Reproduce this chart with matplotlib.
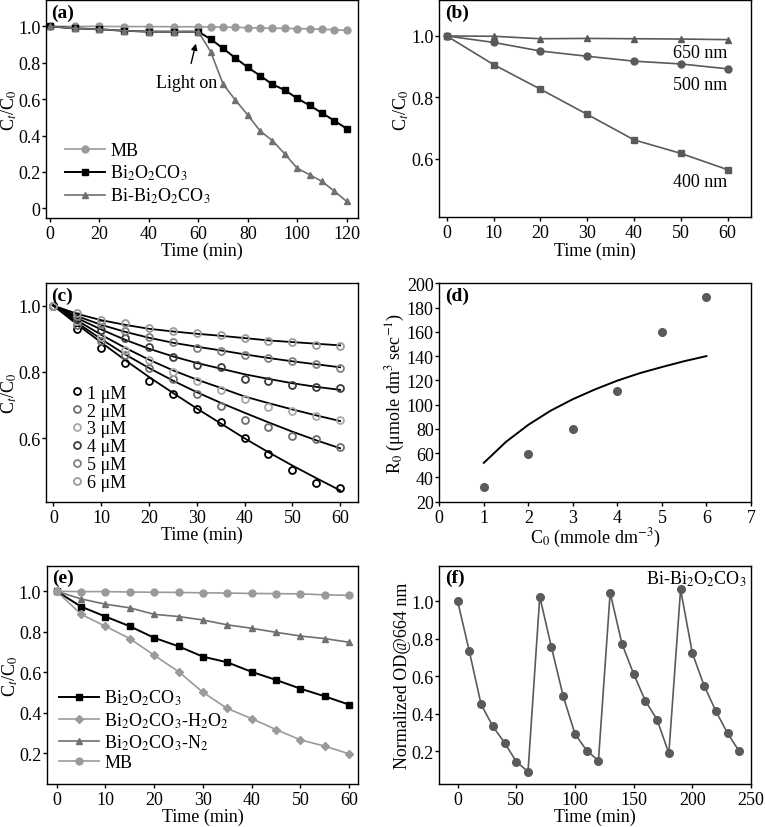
import numpy as np
import matplotlib
matplotlib.use("Agg")
import matplotlib.pyplot as plt
from matplotlib.ticker import FixedLocator, FixedFormatter

plt.rcParams["font.family"] = ["Liberation Serif", "DejaVu Serif"]
plt.rcParams["mathtext.fontset"] = "stix"
plt.rcParams["font.size"] = 13
plt.rcParams["xtick.direction"] = "out"
plt.rcParams["ytick.direction"] = "out"
plt.rcParams["xtick.major.size"] = 3
plt.rcParams["ytick.major.size"] = 3
plt.rcParams["axes.linewidth"] = 1.0

W, H = 765, 828

# ---- (a) dark adsorption then light on
t_a = [0, 10, 20, 30, 40, 50, 60, 65, 70, 75, 80, 85, 90, 95, 100, 105, 110, 115, 120]
mb_a = [1.0, 1.0, 1.0, 0.999, 0.999, 0.998, 0.998, 0.997, 0.996, 0.995, 0.993, 0.991, 0.99,
        0.989, 0.988, 0.986, 0.984, 0.982, 0.978]
boc_a = [1.0, 0.989, 0.984, 0.976, 0.971, 0.971, 0.971, 0.93, 0.879, 0.826, 0.775, 0.729, 0.681,
         0.65, 0.604, 0.566, 0.524, 0.482, 0.438]
bi_a = [1.0, 0.989, 0.984, 0.976, 0.971, 0.971, 0.971, 0.861, 0.683, 0.595, 0.513, 0.425, 0.372,
        0.299, 0.22, 0.185, 0.148, 0.095, 0.038]

# ---- (b) wavelength dependence
t_b = [0, 10, 20, 30, 40, 50, 60]
nm650 = [1.0, 0.999, 0.991, 0.992, 0.991, 0.99, 0.988]
nm500 = [1.0, 0.979, 0.951, 0.934, 0.918, 0.909, 0.893]
nm400 = [1.0, 0.907, 0.827, 0.745, 0.662, 0.618, 0.565]

# ---- (c) initial concentration
t_c = [0, 5, 10, 15, 20, 25, 30, 35, 40, 45, 50, 55, 60]
conc_labels = ["1 μM", "2 μM", "3 μM", "4 μM", "5 μM", "6 μM"]
conc_pts = [
    [1.0, 0.930, 0.873, 0.826, 0.773, 0.733, 0.688, 0.650, 0.601, 0.553, 0.503, 0.464, 0.449],
    [1.0, 0.942, 0.894, 0.851, 0.811, 0.779, 0.734, 0.698, 0.655, 0.633, 0.606, 0.598, 0.573],
    [1.0, 0.952, 0.905, 0.865, 0.837, 0.801, 0.773, 0.746, 0.717, 0.693, 0.683, 0.667, 0.654],
    [1.0, 0.960, 0.925, 0.903, 0.874, 0.846, 0.822, 0.814, 0.779, 0.774, 0.761, 0.754, 0.752],
    [1.0, 0.970, 0.943, 0.923, 0.904, 0.889, 0.872, 0.862, 0.851, 0.841, 0.834, 0.824, 0.812],
    [1.0, 0.978, 0.958, 0.946, 0.932, 0.923, 0.917, 0.912, 0.901, 0.893, 0.889, 0.881, 0.879],
]
conc_fit = [
    [1.0, 0.943, 0.889, 0.836, 0.785, 0.737, 0.690, 0.645, 0.600, 0.558, 0.518, 0.480, 0.443],
    [1.0, 0.948, 0.899, 0.853, 0.812, 0.774, 0.739, 0.707, 0.677, 0.648, 0.620, 0.594, 0.570],
    [1.0, 0.955, 0.912, 0.873, 0.837, 0.805, 0.777, 0.752, 0.726, 0.706, 0.687, 0.669, 0.652],
    [1.0, 0.962, 0.928, 0.897, 0.870, 0.847, 0.827, 0.810, 0.793, 0.779, 0.766, 0.755, 0.746],
    [1.0, 0.968, 0.942, 0.921, 0.903, 0.888, 0.876, 0.865, 0.853, 0.842, 0.832, 0.823, 0.814],
    [1.0, 0.975, 0.956, 0.942, 0.930, 0.922, 0.915, 0.909, 0.902, 0.895, 0.890, 0.885, 0.880],
]
conc_colors = ["#000000", "#6e6e6e", "#a8a8a8", "#3c3c3c", "#808080", "#9a9a9a"]

# ---- (d) L-H plot
c0 = [1, 2, 3, 4, 5, 6]
r0 = [32, 59, 80, 111, 159.5, 188.5]
c0_fit = [1, 1.5, 2, 2.5, 3, 3.5, 4, 4.5, 5, 5.5, 6]
r0_fit = [52, 69.4, 83.4, 95.0, 104.5, 112.6, 119.8, 125.9, 131.0, 135.8, 140.0]

# ---- (e) scavengers / atmosphere
t_e = [0, 5, 10, 15, 20, 25, 30, 35, 40, 45, 50, 55, 60]
boc_e = [1.0, 0.924, 0.875, 0.827, 0.770, 0.728, 0.677, 0.649, 0.602, 0.562, 0.519, 0.481, 0.440]
h2o2_e = [1.0, 0.886, 0.827, 0.766, 0.684, 0.603, 0.501, 0.421, 0.371, 0.317, 0.266, 0.235, 0.197]
n2_e = [1.0, 0.962, 0.936, 0.918, 0.886, 0.875, 0.858, 0.834, 0.817, 0.797, 0.779, 0.766, 0.748]
mb_e = [1.0, 0.998, 0.998, 0.996, 0.995, 0.994, 0.992, 0.991, 0.989, 0.988, 0.987, 0.982, 0.980]

# ---- (f) recycling
t_f = [0, 10, 20, 30, 40, 50, 60, 70, 80, 90, 100, 110, 120, 130, 140, 150, 160, 170, 180,
       190, 200, 210, 220, 230, 240]
od_f = [1.0, 0.732, 0.450, 0.333, 0.246, 0.145, 0.092, 1.023, 0.753, 0.493, 0.293, 0.204, 0.150,
        1.044, 0.773, 0.612, 0.468, 0.368, 0.189, 1.062, 0.723, 0.550, 0.415, 0.296, 0.200]

BOC = r"Bi$_2$O$_2$CO$_3$"
CTC0 = r"C$_t$/C$_0$"


def add_ax(fig, l, t, r, b):
    return fig.add_axes([l / W, 1 - b / H, (r - l) / W, (b - t) / H])


def style(ax, label):
    ax.tick_params(top=False, right=False, width=1.0, pad=2)
    ax.tick_params(axis="y", pad=1)
    ax.text(0.018, 0.985, label, transform=ax.transAxes, ha="left", va="top",
            fontsize=14, fontweight="bold")


def left_ylabel(ax, text, left_px):
    # keep the label inside the figure: right edge about 19 px from the left border
    ax.set_ylabel(text)
    ax.yaxis.set_label_coords((19.5 - left_px) / 312.0, 0.5)


fig = plt.figure(figsize=(W / 100, H / 100), dpi=100)

# (a)
ax = add_ax(fig, 46, 1, 358.3, 219)
ax.plot(t_a, mb_a, "-o", color="#9a9a9a", ms=5, lw=1.2, label="MB")
ax.plot(t_a, boc_a, "-s", color="black", ms=5, lw=1.4, label=BOC)
ax.plot(t_a, bi_a, "-^", color="#707070", ms=5, lw=1.2, label="Bi-" + BOC)
ax.annotate("Light on", xy=(59, 0.905), xytext=(55.2, 0.69), ha="center", va="center",
            arrowprops=dict(arrowstyle="-|>", color="black", lw=1, mutation_scale=9,
                            shrinkA=6, shrinkB=0))
ax.set_xlim(-1.6, 124.7)
ax.set_ylim(-0.053, 1.145)
ax.set_xticks([0, 20, 40, 60, 80, 100, 120])
ax.yaxis.set_major_locator(FixedLocator([0, 0.2, 0.4, 0.6, 0.8, 1.0]))
ax.yaxis.set_major_formatter(FixedFormatter(["0", "0.2", "0.4", "0.6", "0.8", "1.0"]))
ax.set_xlabel("Time (min)", labelpad=0)
left_ylabel(ax, CTC0, 46)
ax.legend(loc="lower left", frameon=False, handlelength=2.2, handletextpad=0.3,
          labelspacing=0.2, borderaxespad=0.3, bbox_to_anchor=(0.02, 0.0))
style(ax, "(a)")

# (b)
ax = add_ax(fig, 439.3, 1, 751, 218.3)
ax.plot(t_b, nm650, "-^", color="#5a5a5a", ms=5, lw=1.2)
ax.plot(t_b, nm500, "-o", color="#5a5a5a", ms=5, lw=1.2)
ax.plot(t_b, nm400, "-s", color="#5a5a5a", ms=5, lw=1.2)
ax.text(54.2, 0.947, "650 nm", ha="center", va="center")
ax.text(54.2, 0.842, "500 nm", ha="center", va="center")
ax.text(54.2, 0.525, "400 nm", ha="center", va="center")
ax.set_xlim(-1.58, 65.0)
ax.set_ylim(0.41, 1.117)
ax.set_xticks([0, 10, 20, 30, 40, 50, 60])
ax.set_yticks([0.6, 0.8, 1.0])
ax.set_xlabel("Time (min)", labelpad=0)
ax.set_ylabel(CTC0, labelpad=0)
style(ax, "(b)")

# (c)
ax = add_ax(fig, 46, 284, 358.3, 503)
for pts, fit, col, lab in zip(conc_pts, conc_fit, conc_colors, conc_labels):
    ax.plot(t_c, fit, "-", color="black", lw=1.3)
    ax.plot(t_c, pts, "o", mfc="none", mec=col, mew=1.3, ms=5, label=lab)
ax.set_xlim(-1.53, 63.8)
ax.set_ylim(0.408, 1.068)
ax.set_xticks([0, 10, 20, 30, 40, 50, 60])
ax.set_yticks([0.6, 0.8, 1.0])
ax.set_xlabel("Time (min)", labelpad=0)
left_ylabel(ax, CTC0, 46)
ax.legend(loc="lower left", frameon=False, handlelength=0.5, handletextpad=0.3,
          labelspacing=0.05, borderaxespad=0.2, bbox_to_anchor=(0.05, 0.0))
style(ax, "(c)")

# (d)
ax = add_ax(fig, 439.3, 284.3, 751, 502.7)
ax.plot(c0_fit, r0_fit, "-", color="black", lw=1.4)
ax.plot(c0, r0, "o", color="#5a5a5a", ms=5.5)
ax.set_xlim(0, 7)
ax.set_ylim(20, 200)
ax.set_xticks(range(0, 8))
ax.set_yticks(range(20, 201, 20))
ax.set_xlabel(r"C$_0$ (mmole dm$^{-3}$)", labelpad=0)
ax.set_ylabel(r"R$_0$ (μmole dm$^3$ sec$^{-1}$)", labelpad=0)
style(ax, "(d)")

# (e)
ax = add_ax(fig, 46.7, 566.7, 358.3, 785)
ax.plot(t_e, boc_e, "-s", color="black", ms=5, lw=1.4, label=BOC)
ax.plot(t_e, h2o2_e, "-D", color="#9a9a9a", ms=4.5, lw=1.2, label=BOC + r"-H$_2$O$_2$")
ax.plot(t_e, n2_e, "-^", color="#707070", ms=5, lw=1.2, label=BOC + r"-N$_2$")
ax.plot(t_e, mb_e, "-o", color="#9a9a9a", ms=5, lw=1.2, label="MB")
ax.set_xlim(-2.05, 61.9)
ax.set_ylim(0.048, 1.126)
ax.set_xticks([0, 10, 20, 30, 40, 50, 60])
ax.set_yticks([0.2, 0.4, 0.6, 0.8, 1.0])
ax.set_xlabel("Time (min)", labelpad=0)
left_ylabel(ax, CTC0, 46.7)
ax.legend(loc="lower left", frameon=False, handlelength=2.2, handletextpad=0.3,
          labelspacing=0.15, borderaxespad=0.3, bbox_to_anchor=(0.0, 0.0))
style(ax, "(e)")

# (f)
ax = add_ax(fig, 439.3, 566.7, 751, 785)
ax.plot(t_f, od_f, "-o", color="#5a5a5a", ms=5.5, lw=1.2)
ax.text(0.985, 0.985, "Bi-" + BOC, transform=ax.transAxes, ha="right", va="top")
ax.set_xlim(-15.6, 250)
ax.set_ylim(0.026, 1.188)
ax.set_xticks([0, 50, 100, 150, 200, 250])
ax.set_yticks([0.2, 0.4, 0.6, 0.8, 1.0])
ax.set_xlabel("Time (min)", labelpad=0)
ax.set_ylabel("Normalized OD@664 nm", labelpad=0)
style(ax, "(f)")

fig.savefig("out.png", dpi=100)
